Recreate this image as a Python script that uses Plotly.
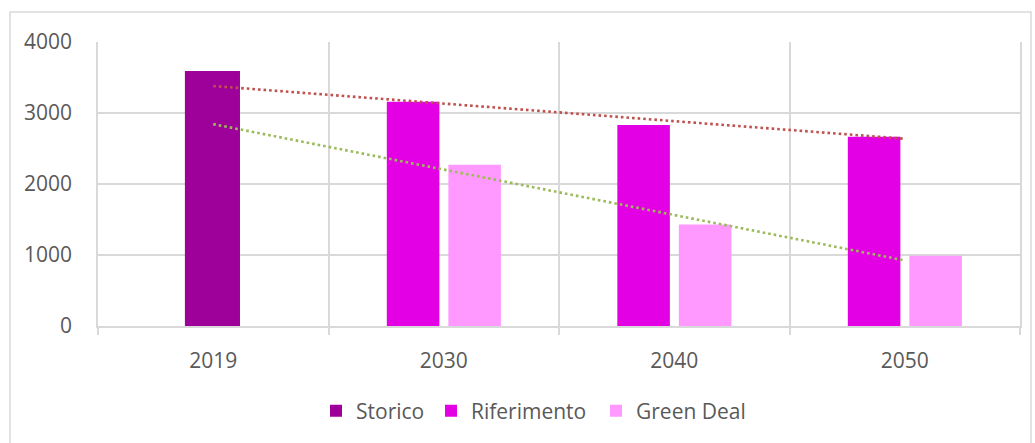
import numpy as np
import plotly.graph_objects as go

# Categories and series values
years = ["2019", "2030", "2040", "2050"]
storico_years = ["2019"]
storico = [3590]
scenario_years = ["2030", "2040", "2050"]
riferimento = [3160, 2830, 2665]
green_deal = [2270, 1430, 990]
y_ticks = [0, 1000, 2000, 3000, 4000]

# Linear trendlines fitted on the scenario years (positions 2..4), extended back to 2019
pos_all = np.arange(1, len(years) + 1)
pos_scen = np.array([years.index(y) + 1 for y in scenario_years])
rif_fit = np.polyval(np.polyfit(pos_scen, riferimento, 1), pos_all)
gd_fit = np.polyval(np.polyfit(pos_scen, green_deal, 1), pos_all)

text_color = "#595959"
grid_color = "#D9D9D9"
font = dict(family="Open Sans", size=21, color=text_color)

fig = go.Figure()
fig.add_trace(go.Bar(name="Storico", x=storico_years, y=storico,
                     marker=dict(color="#9E009A", line=dict(width=0)),
                     width=0.239, offset=-0.123, legendwidth=70))
fig.add_trace(go.Bar(name="Riferimento", x=scenario_years, y=riferimento,
                     marker=dict(color="#E400E4", line=dict(width=0)),
                     width=0.228, offset=-0.247, legendwidth=120))
fig.add_trace(go.Bar(name="Green Deal", x=scenario_years, y=green_deal,
                     marker=dict(color="#FF99FF", line=dict(width=0)),
                     width=0.228, offset=0.02))
fig.add_trace(go.Scatter(x=years, y=rif_fit, mode="lines", showlegend=False,
                         line=dict(color="#C0504D", width=2.6, dash="2.6px,3px")))
fig.add_trace(go.Scatter(x=years, y=gd_fit, mode="lines", showlegend=False,
                         line=dict(color="#9BBB59", width=2.6, dash="2.6px,3px")))

W, H = 1035, 443
ml, mr, mt, mb = 98, 15, 42, 117
pw, ph = W - ml - mr, H - mt - mb


def px_to_paper_x(px):
    return (px - ml) / pw


def px_to_paper_y(py):
    return (H - mb - py) / ph


# Outer chart frame
fig.add_shape(type="rect", xref="paper", yref="paper",
              x0=px_to_paper_x(10), x1=px_to_paper_x(1031),
              y0=px_to_paper_y(450), y1=px_to_paper_y(12),
              line=dict(color=grid_color, width=1.5), fillcolor="rgba(0,0,0,0)",
              layer="below")

fig.update_layout(
    width=W, height=H,
    margin=dict(l=ml, r=mr, t=mt, b=mb),
    paper_bgcolor="white", plot_bgcolor="white",
    barmode="overlay",
    font=font,
    hovermode=False,
    showlegend=True,
    legend=dict(orientation="h", x=px_to_paper_x(316), xanchor="left",
                y=px_to_paper_y(411), yanchor="middle",
                itemwidth=30,
                font=dict(family="Open Sans", size=21, color=text_color),
                traceorder="normal", itemclick=False),
    xaxis=dict(type="category", categoryorder="array", categoryarray=years,
               range=[-0.5, 3.5], tickson="boundaries",
               showgrid=True, gridcolor=grid_color, gridwidth=1.5,
               showline=True, linecolor=grid_color, linewidth=1.5,
               ticks="outside", ticklen=7, tickcolor=grid_color, tickwidth=1.5,
               ticklabelstandoff=15, tickfont=font, mirror=False),
    yaxis=dict(range=[0, 4000], tickvals=y_ticks, showgrid=True,
               gridcolor=grid_color, gridwidth=1.5, zeroline=False,
               showline=True, linecolor=grid_color, linewidth=1.5, mirror=True,
               ticks="", ticklabelstandoff=20, tickfont=font),
)

fig.write_html("out.html")
